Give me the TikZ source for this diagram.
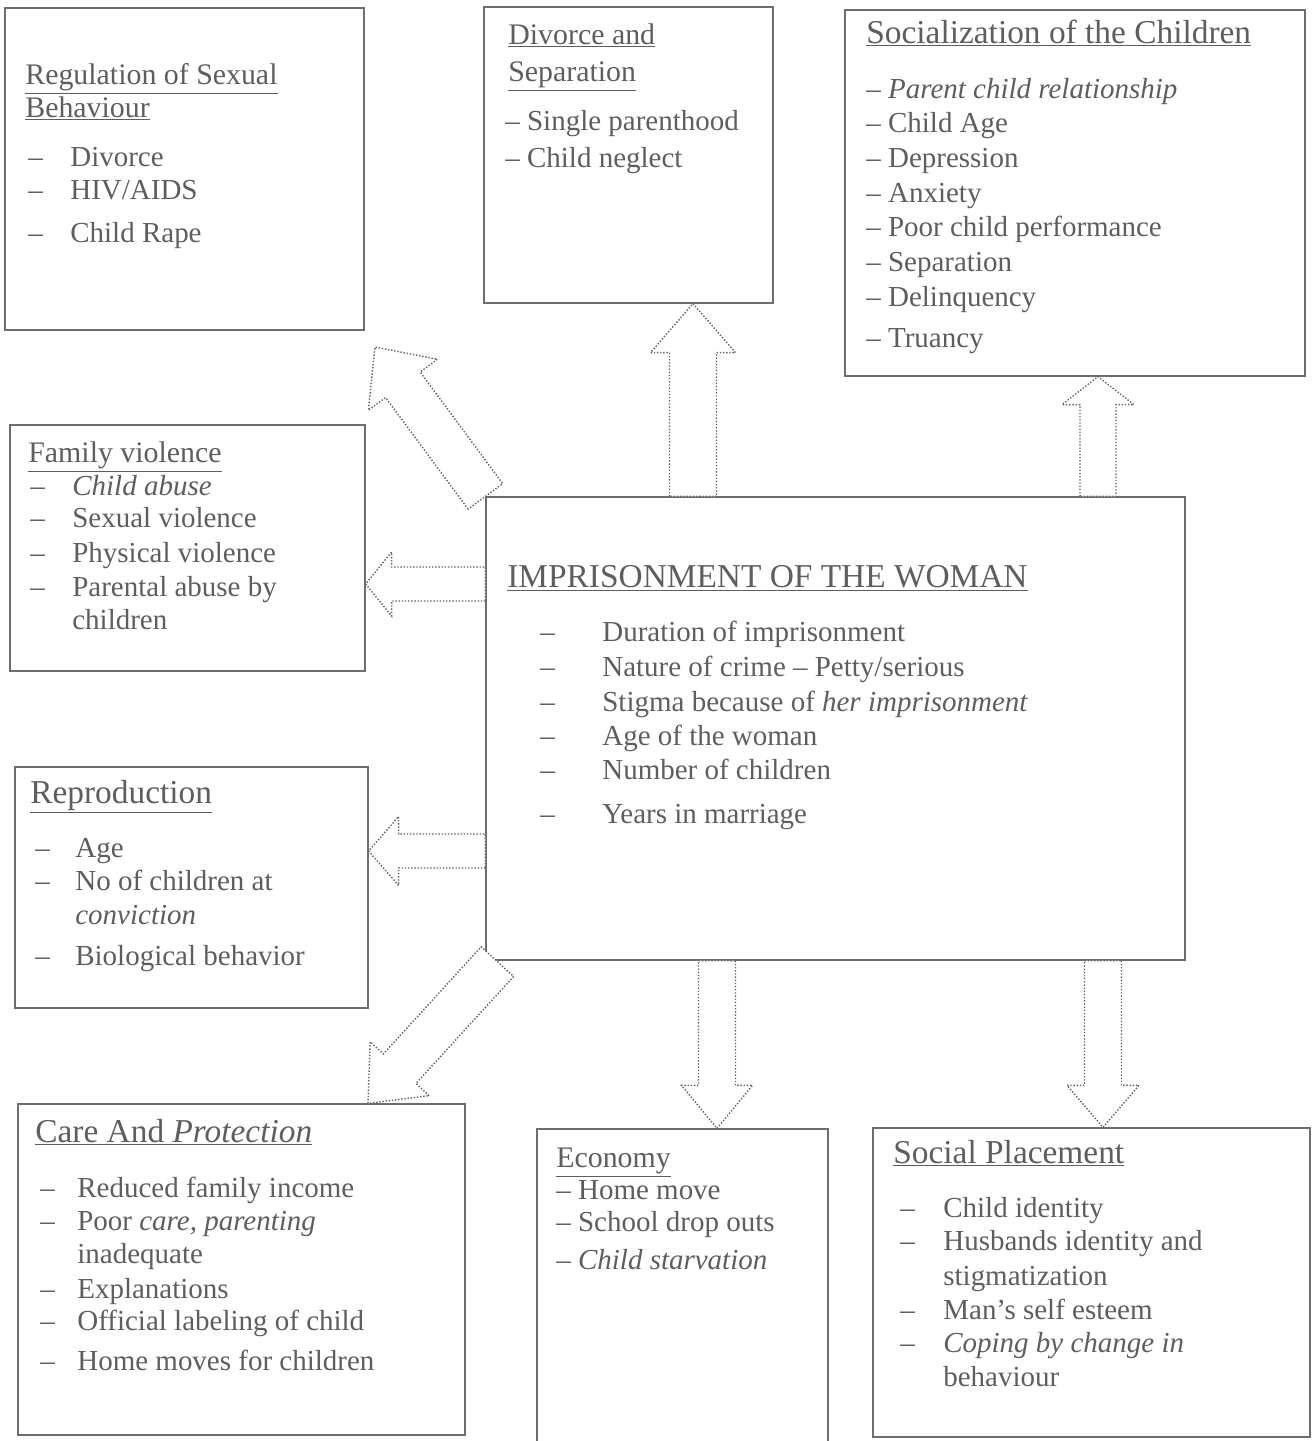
\documentclass[tikz,border=0pt]{standalone}
\usepackage{fontspec}
\setmainfont{Liberation Serif}
\usetikzlibrary{calc,fit}
\definecolor{ink}{HTML}{5E5E5E}
\definecolor{rule}{HTML}{6E6E6E}

\newcommand{\bodyfont}{\fontsize{16.5}{19.8}\selectfont}
\newcommand{\headfont}{\fontsize{19}{22}\selectfont}
\newcommand{\subheadfont}{\fontsize{17}{20}\selectfont}

% hollow block arrow: start #1, tip #2, shaft half width #3, head half width #4, head length #5
\newcommand{\blockarrow}[5]{%
  \coordinate (ba-neck) at ($(#2)!#5!(#1)$);
  \draw[barrow] ($(#1)!#3!90:(#2)$) -- ($(ba-neck)!#3!-90:(#1)$)
    -- ($(ba-neck)!#4!-90:(#1)$) -- (#2) -- ($(ba-neck)!#4!90:(#1)$)
    -- ($(ba-neck)!#3!90:(#1)$) -- ($(#1)!#3!-90:(#2)$) -- cycle;}

\begin{document}
\begin{tikzpicture}[x=0.02cm,y=-0.02cm,font=\bodyfont,text=ink,
  box/.style={draw=rule,line width=0.7pt,inner sep=0pt},
  barrow/.style={draw=rule!90!black,fill=white,line width=0.8pt,densely dotted},
  item/.style={anchor=mid west,inner sep=0pt,yshift=-0.1cm},
  head/.style={anchor=mid west,inner sep=0pt,yshift=-0.1cm,font=\headfont}]
  \useasboundingbox (0,0) rectangle (1312,1441);

  % boxes
  \node[box,fit={(5,8) (364,330)}] (reg) {};
  \node[box,fit={(484,7) (773,303)}] (div) {};
  \node[box,fit={(845,10) (1305,376)}] (soc) {};
  \node[box,fit={(10,425) (365,671)}] (fam) {};
  \node[box,fit={(486,497) (1185,960)}] (imp) {};
  \node[box,fit={(15,767) (368,1008)}] (rep) {};
  \node[box,fit={(18,1104) (465,1435)}] (care) {};
  \node[box,fit={(537,1129) (828,1450)}] (eco) {};
  \node[box,fit={(873,1128) (1310,1437)}] (plc) {};

  % arrows out of the centre box
  \coordinate (upA) at (693,0);
  \coordinate (upB) at (1098,0);
  \coordinate (dnA) at (717,0);
  \coordinate (dnB) at (1103,0);
  \coordinate (lfA) at (0,584);
  \coordinate (lfB) at (0,851);
  \coordinate (tipC) at (375,347);
  \coordinate (tipF) at (368,0);
  \coordinate (startF) at ([shift={(12,1)}]imp.south west);
  \blockarrow{imp.north -| upA}{div.south -| upA}{0.47cm}{0.85cm}{0.98cm}
  \blockarrow{imp.north -| upB}{soc.south -| upB}{0.36cm}{0.72cm}{0.56cm}
  \blockarrow{imp.south -| dnA}{eco.north -| dnA}{0.37cm}{0.71cm}{0.86cm}
  \blockarrow{imp.south -| dnB}{plc.north -| dnB}{0.37cm}{0.72cm}{0.84cm}
  \blockarrow{imp.west |- lfA}{fam.east |- lfA}{0.34cm}{0.64cm}{0.52cm}
  \blockarrow{imp.west |- lfB}{rep.east |- lfB}{0.34cm}{0.69cm}{0.6cm}
  \blockarrow{imp.north west}{tipC}{0.43cm}{0.86cm}{0.94cm}
  \blockarrow{startF}{care.north -| tipF}{0.44cm}{0.8cm}{0.94cm}

  % Regulation of Sexual Behaviour
  \node[head,font=\subheadfont] (reg-t1) at (25,75) {\underline{Regulation of Sexual}};
  \node[head,font=\subheadfont] (reg-t2) at (25,108) {\underline{Behaviour}};
  \foreach \y/\t [count=\i] in {157/Divorce,190/{HIV/AIDS},233/Child Rape}{
    \node[item] (reg-d\i) at (28,\y) {–};
    \node[item] (reg-\i) at (70,\y) {\t};}

  % Divorce and Separation
  \node[head,font=\subheadfont] (div-t1) at (508,35) {\underline{Divorce and}};
  \node[head,font=\subheadfont] (div-t2) at (508,72) {\underline{Separation}};
  \foreach \y/\t [count=\i] in {121/Single parenthood,158/Child neglect}
    \node[item] (div-\i) at (505,\y) {– \t};

  % Socialization of the Children
  \node[head] (soc-t) at (866,34) {\underline{Socialization of the Children}};
  \foreach \y/\t [count=\i] in {89/{\itshape Parent child relationship},123/Child Age,
      158/Depression,193/Anxiety,227/Poor child performance,262/Separation,
      297/Delinquency,338/Truancy}
    \node[item] (soc-\i) at (866,\y) {– \t};

  % Family violence
  \node[head,font=\subheadfont] (fam-t) at (28,453) {\underline{Family violence}};
  \foreach \y/\t [count=\i] in {486/{\itshape Child abuse},518/Sexual violence,
      553/Physical violence,587/Parental abuse by}{
    \node[item] (fam-d\i) at (30,\y) {–};
    \node[item] (fam-\i) at (72,\y) {\t};}
  \node[item] (fam-5) at (72,620) {children};

  % Imprisonment of the woman
  \node[head] (imp-t) at (507,578) {\underline{IMPRISONMENT OF THE WOMAN}};
  \foreach \y/\t [count=\i] in {632/Duration of imprisonment,
      667/{Nature of crime – Petty/serious},
      702/{Stigma because of \textit{her imprisonment}},
      736/Age of the woman,770/Number of children,814/Years in marriage}{
    \node[item] (imp-d\i) at (540,\y) {–};
    \node[item] (imp-\i) at (602,\y) {\t};}

  % Reproduction
  \node[head] (rep-t) at (30,794) {\underline{Reproduction}};
  \foreach \y/\t [count=\i] in {848/Age,881/No of children at,956/Biological behavior}{
    \node[item] (rep-d\i) at (35,\y) {–};
    \node[item] (rep-\i) at (75,\y) {\t};}
  \node[item] (rep-4) at (75,915) {\itshape conviction};

  % Care And Protection
  \node[head] (care-t) at (35,1133) {\underline{Care And \textit{Protection}}};
  \foreach \y/\t [count=\i] in {1188/Reduced family income,
      1221/{Poor \textit{care, parenting}},1289/Explanations,
      1321/Official labeling of child,1361/Home moves for children}{
    \node[item] (care-d\i) at (40,\y) {–};
    \node[item] (care-\i) at (77,\y) {\t};}
  \node[item] (care-6) at (77,1254) {inadequate};

  % Economy
  \node[head,font=\subheadfont] (eco-t) at (556,1158) {\underline{Economy}};
  \foreach \y/\t [count=\i] in {1190/Home move,1222/School drop outs,
      1260/{\itshape Child starvation}}
    \node[item] (eco-\i) at (556,\y) {– \t};

  % Social Placement
  \node[head] (plc-t) at (893,1154) {\underline{Social Placement}};
  \foreach \y/\t [count=\i] in {1208/Child identity,1241/Husbands identity and,
      1310/Man’s self esteem,1343/{\itshape Coping by change in}}{
    \node[item] (plc-d\i) at (900,\y) {–};
    \node[item] (plc-\i) at (943,\y) {\t};}
  \node[item] (plc-5) at (943,1276) {stigmatization};
  \node[item] (plc-6) at (943,1377) {behaviour};
\end{tikzpicture}
\end{document}
